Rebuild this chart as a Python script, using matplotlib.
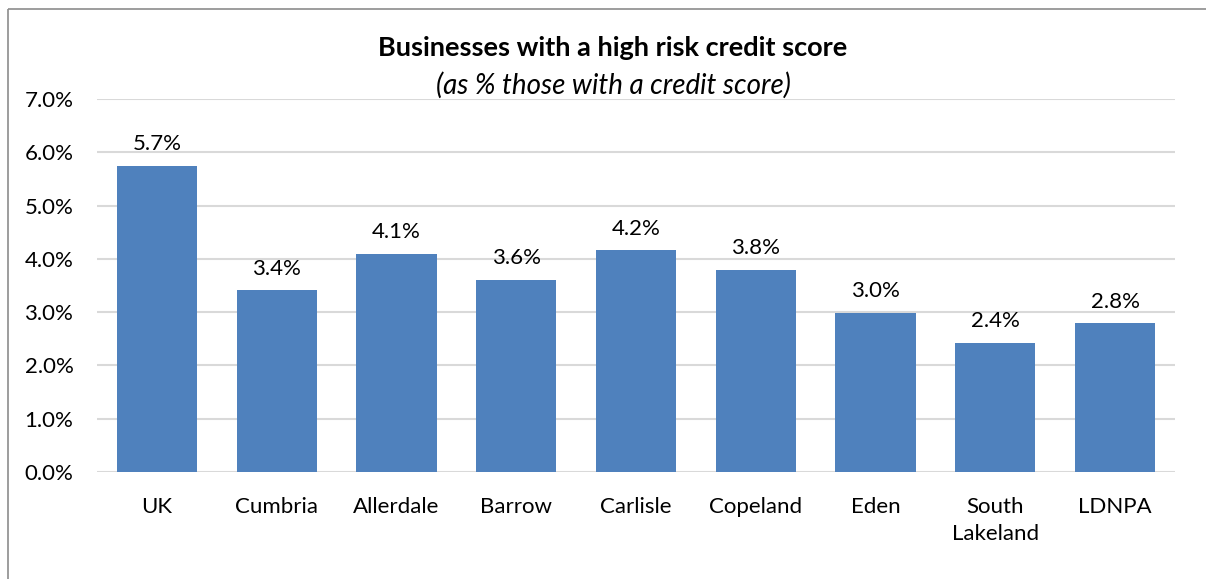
import matplotlib.pyplot as plt
from matplotlib.lines import Line2D

areas = ['UK', 'Cumbria', 'Allerdale', 'Barrow', 'Carlisle', 'Copeland', 'Eden', 'South\nLakeland', 'LDNPA']
high_risk = [5.74, 3.41, 4.10, 3.60, 4.16, 3.80, 2.98, 2.43, 2.79]
yticks = [0, 1, 2, 3, 4, 5, 6, 7]

plt.rcParams['font.family'] = ['Lato', 'DejaVu Sans']

fig = plt.figure(figsize=(12.06, 5.79), dpi=100)
# chart border: only top and left edges are visible
bx, by = 7.5 / 1206, 1 - 8.5 / 579
fig.add_artist(Line2D([bx, bx], [0, by], transform=fig.transFigure, color='#8c8c8c',
                      linewidth=1.2, solid_capstyle='butt'))
fig.add_artist(Line2D([bx, 1], [by, by], transform=fig.transFigure, color='#8c8c8c',
                      linewidth=1.2, solid_capstyle='butt'))

ax = fig.add_axes([97/1206, 1 - 472/579, (1175 - 97)/1206, (472 - 99)/579])
x = range(len(areas))
ax.bar(x, high_risk, width=0.67, color='#4F81BD', zorder=3)
for i, v in enumerate(high_risk):
    ax.text(i, v + 0.22, f'{v:.1f}%', ha='center', va='bottom', fontsize=16)

ax.set_xlim(-0.5, len(areas) - 0.5)
ax.set_ylim(0, 7)
ax.set_yticks(yticks)
ax.set_yticklabels([f'{t:.1f}%' for t in yticks], fontsize=16)
ax.set_xticks(list(x))
ax.set_xticklabels(areas, fontsize=16, va='top', linespacing=1.45)
ax.tick_params(length=0)
ax.tick_params(axis='x', pad=18)
ax.tick_params(axis='y', pad=17)
ax.yaxis.grid(True, color='#d9d9d9', linewidth=1.5, zorder=0)
for s in ax.spines.values():
    s.set_visible(False)

fig.text(0.5 + 10/1206, 1 - 48/579, 'Businesses with a high risk credit score', ha='center', va='center',
         fontsize=19.5, fontweight='bold')
fig.text(0.5 + 10/1206, 1 - 85/579, '(as % those with a credit score)', ha='center', va='center',
         fontsize=20, style='italic')

fig.savefig('out.png', dpi=100, facecolor='white')
